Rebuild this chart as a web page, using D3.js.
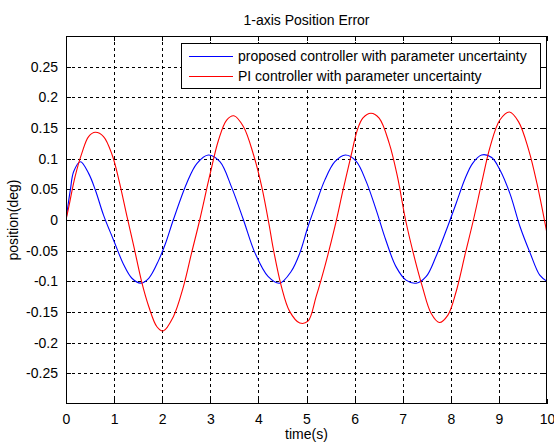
<!DOCTYPE html>
<html>
<head>
<meta charset="utf-8">
<script src="https://cdn.jsdelivr.net/npm/d3@7"></script>
<style>
  html, body { margin: 0; padding: 0; background: #fff; }
  svg { display: block; font-family: "Liberation Sans", Arial, sans-serif; }
</style>
</head>
<body>
<svg id="chart" width="554" height="444"></svg>
<script>
// Time samples (s) and position error (deg) for each controller
const proposedTime = [0, 0.09, 0.16, 0.30, 0.47, 0.61, 0.78, 0.99, 1.2, 1.37, 1.55, 1.72, 1.93, 2.07, 2.23, 2.51, 2.72, 2.96, 3.2, 3.44, 3.69, 3.93, 4.2, 4.44, 4.68, 4.86, 5.03, 5.2, 5.38, 5.59, 5.81, 6.03, 6.24, 6.45, 6.65, 6.86, 7.07, 7.28, 7.49, 7.69, 7.9, 8.11, 8.3, 8.45, 8.64, 8.85, 9.02, 9.23, 9.44, 9.65, 9.85, 10];
const proposedValue = [0, 0.049, 0.079, 0.095, 0.076, 0.049, 0.008, -0.033, -0.073, -0.095, -0.103, -0.095, -0.065, -0.038, 0, 0.060, 0.092, 0.106, 0.095, 0.054, 0, -0.054, -0.092, -0.103, -0.084, -0.054, -0.011, 0.027, 0.065, 0.095, 0.106, 0.096, 0.063, 0.016, -0.033, -0.076, -0.098, -0.103, -0.092, -0.06, -0.018, 0.027, 0.068, 0.092, 0.106, 0.102, 0.082, 0.043, -0.011, -0.054, -0.09, -0.1];

const piTime = [0, 0.06, 0.19, 0.33, 0.47, 0.61, 0.78, 0.96, 1.1, 1.27, 1.41, 1.58, 1.72, 1.89, 2.02, 2.23, 2.44, 2.61, 2.78, 2.99, 3.17, 3.34, 3.49, 3.69, 3.9, 4.07, 4.23, 4.3, 4.48, 4.65, 4.86, 5.03, 5.2, 5.38, 5.59, 5.76, 5.93, 6.05, 6.17, 6.34, 6.51, 6.72, 6.89, 7.06, 7.24, 7.41, 7.59, 7.76, 7.94, 8.11, 8.3, 8.47, 8.64, 8.82, 9.02, 9.22, 9.41, 9.62, 9.79, 10];
const piValue = [0, 0.022, 0.071, 0.109, 0.136, 0.143, 0.136, 0.106, 0.065, 0.005, -0.043, -0.103, -0.141, -0.174, -0.181, -0.158, -0.109, -0.054, 0, 0.073, 0.13, 0.163, 0.170, 0.152, 0.106, 0.054, -0.011, -0.043, -0.109, -0.149, -0.168, -0.165, -0.125, -0.076, -0.011, 0.049, 0.106, 0.145, 0.166, 0.174, 0.166, 0.125, 0.071, 0, -0.06, -0.109, -0.152, -0.167, -0.155, -0.117, -0.055, 0, 0.06, 0.12, 0.163, 0.176, 0.16, 0.114, 0.06, -0.022];

const xTicks = [0, 1, 2, 3, 4, 5, 6, 7, 8, 9, 10];
const yTicks = [-0.25, -0.2, -0.15, -0.1, -0.05, 0, 0.05, 0.1, 0.15, 0.2, 0.25];
const seriesNames = ["proposed controller with parameter uncertainty", "PI controller with parameter uncertainty"];
const seriesColors = ["#0000ff", "#ff0000"];
const titleText = "1-axis Position Error";
const xLabel = "time(s)";
const yLabel = "position(deg)";

const svg = d3.select("#chart");
const margin = { left: 66, top: 36, right: 7, bottom: 40 };
const W = 554, H = 444;
const x0 = margin.left, x1 = W - margin.right;
const y0 = margin.top, y1 = H - margin.bottom;

const x = d3.scaleLinear().domain([0, 10]).range([x0, x1]);
const y = d3.scaleLinear().domain([-0.3, 0.3]).range([y1, y0]);

const fontSize = 14;

// dotted grid lines
const grid = svg.append("g").attr("stroke", "#000").attr("stroke-width", 1)
  .attr("stroke-dasharray", "3,3").attr("shape-rendering", "crispEdges");
xTicks.filter(t => t > 0 && t < 10).forEach(t => {
  grid.append("line").attr("x1", Math.round(x(t)) + 0.5).attr("x2", Math.round(x(t)) + 0.5)
    .attr("y1", y0).attr("y2", y1);
});
yTicks.forEach(t => {
  grid.append("line").attr("y1", Math.round(y(t)) + 0.5).attr("y2", Math.round(y(t)) + 0.5)
    .attr("x1", x0).attr("x2", x1);
});

// axes with inward ticks on all four sides
const tickLen = 5;
const bottomAxis = d3.axisBottom(x).tickValues(xTicks).tickSizeInner(-tickLen).tickSizeOuter(0).tickPadding(10).tickFormat(d3.format("d"));
const topAxis = d3.axisTop(x).tickValues(xTicks).tickSizeInner(-tickLen).tickSizeOuter(0).tickFormat("");
const leftAxis = d3.axisLeft(y).tickValues(yTicks).tickSizeInner(-tickLen).tickSizeOuter(0).tickPadding(8).tickFormat(d => String(+d.toFixed(2)));
const rightAxis = d3.axisRight(y).tickValues(yTicks).tickSizeInner(-tickLen).tickSizeOuter(0).tickFormat("");

function styleAxis(g) {
  g.select(".domain").remove();
  g.selectAll("line").attr("stroke", "#000").attr("shape-rendering", "crispEdges");
  g.selectAll("text").attr("fill", "#000").style("font-size", fontSize + "px")
    .style("font-family", "'Liberation Sans', Arial, sans-serif");
}

svg.append("g").attr("transform", `translate(0,${y1})`).call(bottomAxis).call(styleAxis);
svg.append("g").attr("transform", `translate(0,${y0})`).call(topAxis).call(styleAxis);
svg.append("g").attr("transform", `translate(${x0},0)`).call(leftAxis).call(styleAxis);
svg.append("g").attr("transform", `translate(${x1},0)`).call(rightAxis).call(styleAxis);

// series curves, clipped to the plot area
svg.append("clipPath").attr("id", "plotclip").append("rect")
  .attr("x", x0).attr("y", y0).attr("width", x1 - x0).attr("height", y1 - y0);
const line = d3.line().x(d => x(d[0])).y(d => y(d[1])).curve(d3.curveCatmullRom.alpha(0.5));
const series = [
  d3.zip(proposedTime, proposedValue),
  d3.zip(piTime, piValue)
];
series.forEach((pts, i) => {
  svg.append("path").datum(pts).attr("d", line)
    .attr("fill", "none").attr("stroke", seriesColors[i]).attr("stroke-width", 1.1)
    .attr("clip-path", "url(#plotclip)");
});

// plot frame
svg.append("rect").attr("x", x0 + 0.5).attr("y", y0 + 0.5)
  .attr("width", x1 - x0 - 1).attr("height", y1 - y0 - 1)
  .attr("fill", "none").attr("stroke", "#000").attr("stroke-width", 1)
  .attr("shape-rendering", "crispEdges");

// legend
const lg = svg.append("g");
lg.append("rect").attr("x", 181.5).attr("y", 43.5).attr("width", 359).attr("height", 45)
  .attr("fill", "#fff").attr("stroke", "#000").attr("stroke-width", 1)
  .attr("shape-rendering", "crispEdges");
seriesNames.forEach((name, i) => {
  const ly = 56 + i * 20;
  lg.append("line").attr("x1", 189).attr("x2", 233).attr("y1", ly + 0.5).attr("y2", ly + 0.5)
    .attr("stroke", seriesColors[i]).attr("stroke-width", 1.2);
  lg.append("text").attr("x", 238).attr("y", ly).attr("dy", "0.38em")
    .style("font-size", fontSize + "px").attr("fill", "#000").text(name);
});

// title and axis labels
svg.append("text").attr("x", (x0 + x1) / 2).attr("y", 25).attr("text-anchor", "middle")
  .style("font-size", fontSize + "px").text(titleText);
svg.append("text").attr("x", (x0 + x1) / 2).attr("y", 439).attr("text-anchor", "middle")
  .style("font-size", fontSize + "px").text(xLabel);
svg.append("text").attr("transform", `translate(17.5,${(y0 + y1) / 2}) rotate(-90)`)
  .attr("text-anchor", "middle").style("font-size", fontSize + "px").text(yLabel);
</script>
</body>
</html>
